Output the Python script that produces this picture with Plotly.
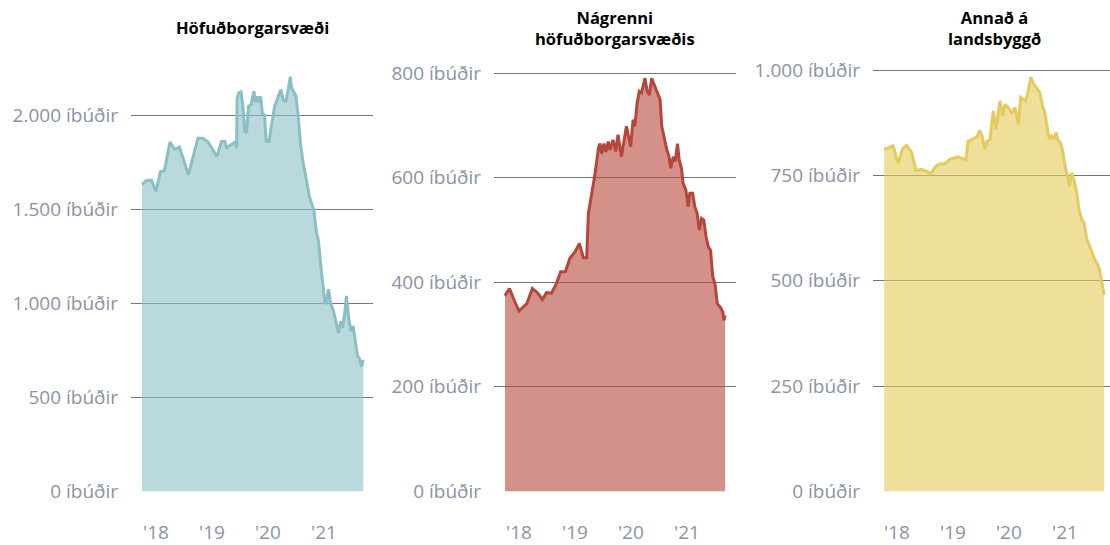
import pandas as pd
import plotly.graph_objects as go

# ---------------- data (decimal year, number of dwellings) ----------------
titles = ["Höfuðborgarsvæði", "Nágrenni<br>höfuðborgarsvæðis", "Annað á<br>landsbyggð"]

hofud_t = [2017.75, 2017.82, 2017.92, 2018.00, 2018.08, 2018.15, 2018.25, 2018.33, 2018.42, 2018.58,
           2018.75, 2018.84, 2018.93, 2019.09, 2019.17, 2019.23, 2019.26, 2019.42, 2019.44, 2019.45,
           2019.48, 2019.52, 2019.55, 2019.59, 2019.62, 2019.655, 2019.70, 2019.75, 2019.78, 2019.81,
           2019.84, 2019.87, 2019.90, 2019.94, 2019.97, 2020.02, 2020.06, 2020.12, 2020.17, 2020.23,
           2020.27, 2020.32, 2020.36, 2020.40, 2020.42, 2020.46, 2020.50, 2020.54, 2020.58, 2020.62,
           2020.66, 2020.70, 2020.74, 2020.78, 2020.82, 2020.86, 2020.90, 2020.94, 2020.98, 2021.02,
           2021.05, 2021.08, 2021.12, 2021.17, 2021.21, 2021.26, 2021.30, 2021.33, 2021.375, 2021.40,
           2021.44, 2021.48, 2021.52, 2021.56, 2021.60, 2021.63, 2021.67, 2021.70]
hofud_v = [1630, 1652, 1655, 1595, 1700, 1705, 1858, 1820, 1830, 1684,
           1878, 1878, 1858, 1781, 1861, 1861, 1829, 1858, 1826, 2089,
           2119, 2124, 2057, 1906, 1915, 2048, 2057, 2128, 2069, 2100,
           2069, 2100, 2012, 2000, 1861, 1861, 1941, 2048, 2087, 2137,
           2084, 2070, 2137, 2205, 2146, 2120, 2102, 1995, 1852, 1762,
           1691, 1629, 1566, 1530, 1495, 1387, 1334, 1209, 1102, 995,
           1021, 1075, 995, 959, 905, 843, 905, 870, 959, 1039,
           923, 852, 879, 798, 718, 709, 664, 700]

nagr_t = [2017.75, 2017.83, 2017.91, 2018.00, 2018.14, 2018.24, 2018.33, 2018.42, 2018.49, 2018.58,
          2018.66, 2018.745, 2018.83, 2018.91, 2019.00, 2019.08, 2019.15, 2019.21, 2019.24, 2019.30,
          2019.36, 2019.42, 2019.446, 2019.477, 2019.518, 2019.554, 2019.595, 2019.625, 2019.68, 2019.73,
          2019.77, 2019.83, 2019.875, 2019.92, 2019.95, 2019.995, 2020.04, 2020.07, 2020.11, 2020.15,
          2020.19, 2020.25, 2020.29, 2020.33, 2020.37, 2020.43, 2020.47, 2020.52, 2020.55, 2020.59,
          2020.64, 2020.68, 2020.71, 2020.755, 2020.79, 2020.83, 2020.86, 2020.90, 2020.93, 2020.98,
          2021.02, 2021.05, 2021.10, 2021.14, 2021.18, 2021.22, 2021.26, 2021.30, 2021.34, 2021.38,
          2021.42, 2021.46, 2021.50, 2021.54, 2021.59, 2021.64, 2021.66, 2021.68]
nagr_v = [374, 388, 367, 345, 359, 388, 380, 367, 380, 379,
          395, 420, 420, 446, 458, 474, 447, 447, 531, 569,
          608, 656, 665, 646, 665, 649, 669, 653, 672, 650,
          682, 640, 672, 698, 682, 659, 711, 698, 742, 765,
          762, 790, 765, 758, 790, 774, 762, 749, 698, 675,
          653, 640, 618, 640, 631, 665, 634, 618, 589, 576,
          544, 570, 570, 544, 532, 500, 522, 519, 487, 468,
          461, 410, 397, 359, 353, 343, 327, 337]

annad_t = [2017.77, 2017.84, 2017.93, 2018.02, 2018.10, 2018.17, 2018.26, 2018.34, 2018.44, 2018.53,
           2018.60, 2018.70, 2018.78, 2018.86, 2018.95, 2019.09, 2019.23, 2019.27, 2019.36, 2019.43,
           2019.48, 2019.52, 2019.57, 2019.61, 2019.66, 2019.72, 2019.77, 2019.84, 2019.89, 2019.93,
           2019.99, 2020.05, 2020.11, 2020.17, 2020.21, 2020.26, 2020.30, 2020.34, 2020.39, 2020.44,
           2020.49, 2020.55, 2020.60, 2020.64, 2020.68, 2020.72, 2020.76, 2020.80, 2020.84, 2020.88,
           2020.92, 2020.96, 2021.00, 2021.04, 2021.08, 2021.12, 2021.16, 2021.21, 2021.25, 2021.30,
           2021.34, 2021.39, 2021.43, 2021.48, 2021.52, 2021.57, 2021.61, 2021.66, 2021.70]
annad_v = [813, 815, 821, 779, 813, 821, 805, 762, 764, 760,
           754, 773, 778, 778, 789, 794, 787, 831, 837, 842,
           857, 843, 813, 831, 835, 903, 860, 927, 891, 919,
           911, 899, 911, 871, 935, 931, 927, 947, 983, 967,
           959, 947, 915, 899, 867, 836, 844, 836, 852, 832,
           828, 808, 772, 752, 725, 756, 740, 709, 669, 645,
           637, 598, 586, 566, 554, 542, 530, 494, 467]

x_tick_years = [2018, 2019, 2020, 2021]
x_tick_text = ["'18", "'19", "'20", "'21"]

y_ticks = [
    [0, 500, 1000, 1500, 2000],
    [0, 200, 400, 600, 800],
    [0, 250, 500, 750, 1000],
]
y_tick_text = [
    ["0 íbúðir", "500 íbúðir", "1.000 íbúðir", "1.500 íbúðir", "2.000 íbúðir"],
    ["0 íbúðir", "200 íbúðir", "400 íbúðir", "600 íbúðir", "800 íbúðir"],
    ["0 íbúðir", "250 íbúðir", "500 íbúðir", "750 íbúðir", "1.000 íbúðir"],
]


def to_date(t):
    y = int(t)
    start = pd.Timestamp(year=y, month=1, day=1)
    end = pd.Timestamp(year=y + 1, month=1, day=1)
    return start + (end - start) * (t - y)


series = [(hofud_t, hofud_v), (nagr_t, nagr_v), (annad_t, annad_v)]
line_colors = ["#8bbfc6", "#b5473a", "#e4cb5e"]
fill_colors = ["rgba(139,191,198,0.6)", "rgba(181,71,58,0.6)", "rgba(228,203,94,0.62)"]

# layout geometry
W, H = 1110, 545
x_domains = [(131 / W, 373 / W), (494 / W, 736 / W), (873 / W, 1.0)]
x_ranges = [(2017.554, 2021.875), (2017.554, 2021.875), (2017.571, 2021.804)]
y_domain = (1 - 510 / H, 1 - 60 / H)
y_ranges = [(0, 2296), (0, 825.7), (0, 1025)]

FONT = "Open Sans"
TICK_COLOR = "#8a93a6"
GRID_COLOR = "#6f7684"

fig = go.Figure()
for i, (ts, vs) in enumerate(series):
    suffix = "" if i == 0 else str(i + 1)
    fig.add_trace(go.Scatter(
        x=[to_date(t) for t in ts], y=vs,
        mode="lines", line=dict(color=line_colors[i], width=3),
        fill="tozeroy", fillcolor=fill_colors[i],
        xaxis="x" + suffix, yaxis="y" + suffix,
        showlegend=False, hoverinfo="x+y",
    ))
    fig.layout["xaxis" + suffix] = dict(
        domain=list(x_domains[i]), anchor="y" + suffix,
        type="date",
        range=[to_date(x_ranges[i][0]), to_date(x_ranges[i][1])],
        tickvals=[pd.Timestamp(year=y, month=1, day=1) for y in x_tick_years],
        ticktext=x_tick_text,
        showgrid=False, zeroline=False, showline=False, ticks="",
        tickfont=dict(family=FONT, size=19, color=TICK_COLOR),
        ticklabelstandoff=28,
    )
    fig.layout["yaxis" + suffix] = dict(
        domain=list(y_domain), anchor="x" + suffix,
        range=list(y_ranges[i]),
        tickvals=y_ticks[i], ticktext=y_tick_text[i],
        showgrid=True, gridcolor=GRID_COLOR, gridwidth=1,
        zeroline=False, showline=False, ticks="",
        tickfont=dict(family=FONT, size=19, color=TICK_COLOR),
        ticklabelstandoff=12,
    )
    fig.add_annotation(
        text=titles[i], showarrow=False,
        xref="paper", yref="paper",
        x=(x_domains[i][0] + (x_domains[i][0] + 242 / W)) / 2, y=1 - 27 / H,
        xanchor="center", yanchor="middle",
        font=dict(family=FONT, size=16.5, color="#000000", weight="bold"),
        align="center",
    )

fig.update_layout(
    width=W, height=H,
    margin=dict(l=0, r=0, t=0, b=0),
    paper_bgcolor="white", plot_bgcolor="white",
    font=dict(family=FONT),
)

fig.write_html(
    "out.html",
    config={"displayModeBar": False},
    post_script="document.body.style.margin='0';document.body.style.overflow='hidden';",
)
